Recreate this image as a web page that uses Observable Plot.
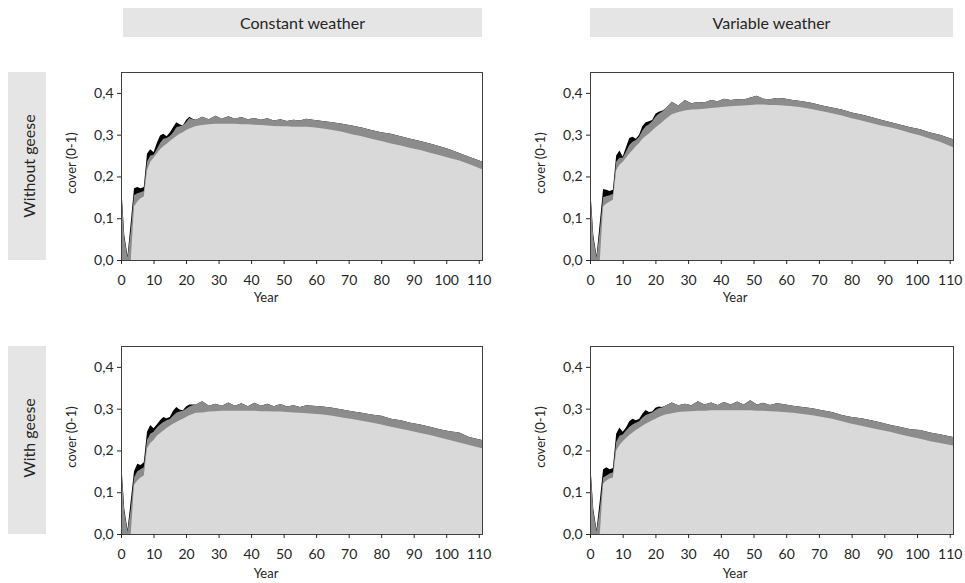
<!DOCTYPE html>
<html><head><meta charset="utf-8">
<script src="https://cdn.jsdelivr.net/npm/d3@7"></script>
<script src="https://cdn.jsdelivr.net/npm/@observablehq/plot@0.6"></script>
<style>
body{margin:0;background:#fff;font-family:Lato,sans-serif;}
#wrap{position:relative;width:965px;height:583px;overflow:hidden;background:#fff;}
.panel{position:absolute;}
.strip{position:absolute;background:#e5e5e5;color:#262626;font-size:16px;display:flex;align-items:center;justify-content:center;}
.vtext{position:absolute;white-space:nowrap;transform:translate(-50%,-50%) rotate(-90deg);color:#262626;}
.lbl{position:absolute;white-space:nowrap;transform:translate(-50%,-50%);color:#262626;}
</style></head><body><div id="wrap"></div>
<script>
// Year sample points
const years = [0,1,2,3,4,5,6,7,8,9,10,11,12,13,14,15,16,17,18,19,20,21,22,23,
  25,27,29,31,33,35,37,39,41,43,45,47,49,51,53,55,57,59,
  62,65,68,71,74,77,80,83,86,89,92,95,98,101,104,107,111];

const colTitles = ["Constant weather", "Variable weather"];
const rowTitles = ["Without geese", "With geese"];
const xTicks = [0,10,20,30,40,50,60,70,80,90,100,110];
const yTicks = [0,0.1,0.2,0.3,0.4];

// Constant weather, without geese
const cwHigh = [0.185,0.06,0.01,0.09,0.172,0.175,0.172,0.175,0.255,0.265,0.258,0.28,0.298,0.302,0.296,0.305,0.318,0.33,0.325,0.322,0.335,0.343,0.338,0.336,
  0.343,0.337,0.345,0.338,0.344,0.338,0.342,0.337,0.34,0.336,0.339,0.334,0.337,0.333,0.336,0.334,0.338,0.336,
  0.333,0.33,0.326,0.322,0.317,0.311,0.306,0.302,0.296,0.29,0.285,0.279,0.272,0.265,0.256,0.247,0.236];
const cwMid = [0.178,0.054,0.006,0.07,0.155,0.16,0.162,0.165,0.235,0.25,0.252,0.265,0.28,0.29,0.292,0.297,0.305,0.318,0.32,0.322,0.33,0.34,0.337,0.336,
  0.343,0.337,0.345,0.338,0.344,0.338,0.342,0.337,0.34,0.336,0.339,0.334,0.337,0.333,0.336,0.334,0.338,0.336,
  0.333,0.33,0.326,0.322,0.317,0.311,0.306,0.302,0.296,0.29,0.285,0.279,0.272,0.265,0.256,0.247,0.236];
const cwLow = [0,0,0,0,0.128,0.14,0.148,0.152,0.215,0.235,0.245,0.255,0.265,0.272,0.278,0.285,0.291,0.297,0.302,0.306,0.311,0.315,0.318,0.321,
  0.323,0.325,0.326,0.326,0.326,0.326,0.325,0.325,0.324,0.323,0.322,0.321,0.32,0.32,0.319,0.319,0.319,0.318,
  0.315,0.311,0.307,0.301,0.296,0.29,0.285,0.279,0.274,0.268,0.263,0.257,0.251,0.244,0.238,0.23,0.217];

// Variable weather, without geese
const vwHigh = [0.18,0.06,0.01,0.09,0.17,0.168,0.165,0.168,0.25,0.262,0.248,0.27,0.292,0.295,0.29,0.3,0.32,0.33,0.332,0.335,0.35,0.355,0.357,0.362,
  0.379,0.37,0.383,0.375,0.378,0.377,0.383,0.38,0.386,0.383,0.385,0.384,0.389,0.393,0.386,0.385,0.388,0.387,
  0.383,0.38,0.376,0.37,0.365,0.36,0.353,0.348,0.342,0.336,0.33,0.324,0.318,0.313,0.305,0.3,0.289];
const vwMid = [0.173,0.054,0.006,0.07,0.15,0.153,0.155,0.158,0.235,0.245,0.245,0.26,0.275,0.283,0.287,0.295,0.31,0.32,0.325,0.332,0.343,0.35,0.355,0.362,
  0.379,0.37,0.383,0.375,0.378,0.377,0.383,0.38,0.386,0.383,0.385,0.384,0.389,0.393,0.386,0.385,0.388,0.387,
  0.383,0.38,0.376,0.37,0.365,0.36,0.353,0.348,0.342,0.336,0.33,0.324,0.318,0.313,0.305,0.3,0.289];
const vwLow = [0,0,0,0,0.128,0.135,0.14,0.144,0.215,0.228,0.235,0.245,0.255,0.263,0.272,0.28,0.29,0.297,0.303,0.31,0.317,0.323,0.33,0.337,
  0.349,0.354,0.358,0.36,0.361,0.362,0.364,0.365,0.367,0.368,0.369,0.37,0.371,0.372,0.372,0.371,0.371,0.37,
  0.368,0.365,0.361,0.356,0.351,0.346,0.339,0.334,0.328,0.322,0.317,0.311,0.304,0.298,0.29,0.283,0.27];

// Constant weather, with geese
const cgHigh = [0.178,0.06,0.01,0.08,0.15,0.168,0.165,0.172,0.245,0.261,0.253,0.262,0.272,0.28,0.277,0.28,0.295,0.304,0.298,0.296,0.305,0.31,0.31,0.31,
  0.318,0.307,0.312,0.307,0.315,0.307,0.313,0.306,0.314,0.307,0.312,0.306,0.311,0.305,0.308,0.304,0.308,0.307,
  0.305,0.302,0.298,0.294,0.29,0.286,0.283,0.276,0.272,0.266,0.262,0.257,0.251,0.246,0.243,0.232,0.225];
const cgMid = [0.171,0.054,0.006,0.06,0.135,0.15,0.155,0.16,0.225,0.24,0.245,0.255,0.262,0.268,0.272,0.275,0.283,0.29,0.293,0.295,0.3,0.305,0.308,0.31,
  0.318,0.307,0.312,0.307,0.315,0.307,0.313,0.306,0.314,0.307,0.312,0.306,0.311,0.305,0.308,0.304,0.308,0.307,
  0.305,0.302,0.298,0.294,0.29,0.286,0.283,0.276,0.272,0.266,0.262,0.257,0.251,0.246,0.243,0.232,0.225];
const cgLow = [0,0,0,0,0.117,0.128,0.135,0.14,0.205,0.218,0.225,0.235,0.242,0.248,0.254,0.259,0.264,0.268,0.272,0.276,0.28,0.284,0.287,0.29,
  0.291,0.293,0.294,0.295,0.295,0.295,0.295,0.295,0.295,0.294,0.294,0.293,0.293,0.292,0.291,0.29,0.289,0.288,
  0.286,0.283,0.279,0.275,0.271,0.267,0.262,0.257,0.252,0.247,0.242,0.237,0.231,0.225,0.219,0.213,0.205];

// Variable weather, with geese
const vgHigh = [0.178,0.06,0.01,0.08,0.155,0.16,0.155,0.158,0.24,0.255,0.245,0.255,0.27,0.276,0.272,0.275,0.288,0.297,0.292,0.293,0.302,0.305,0.304,0.307,
  0.315,0.308,0.312,0.308,0.318,0.31,0.315,0.309,0.316,0.31,0.317,0.31,0.32,0.31,0.314,0.309,0.313,0.311,
  0.307,0.304,0.301,0.296,0.292,0.285,0.28,0.277,0.272,0.267,0.261,0.256,0.251,0.249,0.243,0.239,0.232];
const vgMid = [0.171,0.054,0.006,0.06,0.135,0.14,0.145,0.148,0.22,0.235,0.238,0.248,0.256,0.262,0.266,0.27,0.278,0.285,0.288,0.291,0.297,0.301,0.303,0.307,
  0.315,0.308,0.312,0.308,0.318,0.31,0.315,0.309,0.316,0.31,0.317,0.31,0.32,0.31,0.314,0.309,0.313,0.311,
  0.307,0.304,0.301,0.296,0.292,0.285,0.28,0.277,0.272,0.267,0.261,0.256,0.251,0.249,0.243,0.239,0.232];
const vgLow = [0,0,0,0,0.12,0.128,0.133,0.135,0.2,0.213,0.222,0.23,0.237,0.243,0.249,0.254,0.259,0.264,0.268,0.272,0.276,0.28,0.283,0.286,
  0.289,0.292,0.293,0.294,0.295,0.295,0.296,0.296,0.296,0.296,0.296,0.296,0.296,0.295,0.295,0.294,0.293,0.292,
  0.29,0.287,0.284,0.28,0.276,0.27,0.264,0.259,0.254,0.249,0.244,0.238,0.233,0.228,0.222,0.218,0.212];

const wrap = document.getElementById("wrap");
const fmt = d => d.toFixed(1).replace(".", ",");

function panel(high, mid, low, left, top, width, marginRight) {
  const data = years.map((y, i) => ({year: y, high: high[i], mid: mid[i], low: low[i]}));
  const p = Plot.plot({
    width, height: 245,
    marginLeft: 121, marginRight, marginTop: 12, marginBottom: 45,
    x: {domain: [0, 111], label: null},
    y: {domain: [0, 0.45], label: null},
    style: {fontFamily: "Lato, sans-serif", fontSize: "14px", color: "#262626", background: "transparent", overflow: "visible"},
    marks: [
      Plot.areaY(data, {x: "year", y: "high", fill: "#000"}),
      Plot.areaY(data, {x: "year", y: "mid", fill: "#8c8c8c"}),
      Plot.areaY(data, {x: "year", y: "low", fill: "#d9d9d9"}),
      Plot.frame({stroke: "#404040"}),
      Plot.axisX({ticks: xTicks, tickSize: 4, tickPadding: 11, label: null, fontSize: 14}),
      Plot.axisY({ticks: yTicks, tickSize: 4, tickPadding: 4, tickFormat: fmt, label: null, fontSize: 14})
    ]
  });
  p.classList.add("panel");
  p.style.left = left + "px";
  p.style.top = top + "px";
  wrap.appendChild(p);
}

panel(cwHigh, cwMid, cwLow, 0, 60, 496, 14);
panel(vwHigh, vwMid, vwLow, 469, 60, 496, 12);
panel(cgHigh, cgMid, cgLow, 0, 334, 496, 14);
panel(vgHigh, vgMid, vgLow, 469, 334, 496, 12);

function div(cls, text, css) {
  const d = document.createElement("div");
  d.className = cls;
  d.textContent = text;
  Object.assign(d.style, css);
  wrap.appendChild(d);
  return d;
}
// column strips
div("strip", colTitles[0], {left: "123px", top: "8px", width: "359px", height: "29px"});
div("strip", colTitles[1], {left: "590px", top: "8px", width: "363px", height: "29px"});
// row strips
div("strip", "", {left: "8px", top: "72px", width: "38px", height: "188px"});
div("strip", "", {left: "8px", top: "346px", width: "38px", height: "188px"});
div("vtext", rowTitles[0], {left: "28px", top: "166px", fontSize: "16px"});
div("vtext", rowTitles[1], {left: "28px", top: "438px", fontSize: "16px"});
// y axis titles
for (const [x, y] of [[71, 163], [540, 163], [71, 437], [540, 437]]) {
  div("vtext", "cover (0-1)", {left: x + "px", top: y + "px", fontSize: "13px"});
}
// x axis titles
for (const [x, y] of [[266, 297], [735, 297], [266, 573], [735, 573]]) {
  div("lbl", "Year", {left: x + "px", top: y + "px", fontSize: "13px"});
}
</script>
</body></html>
